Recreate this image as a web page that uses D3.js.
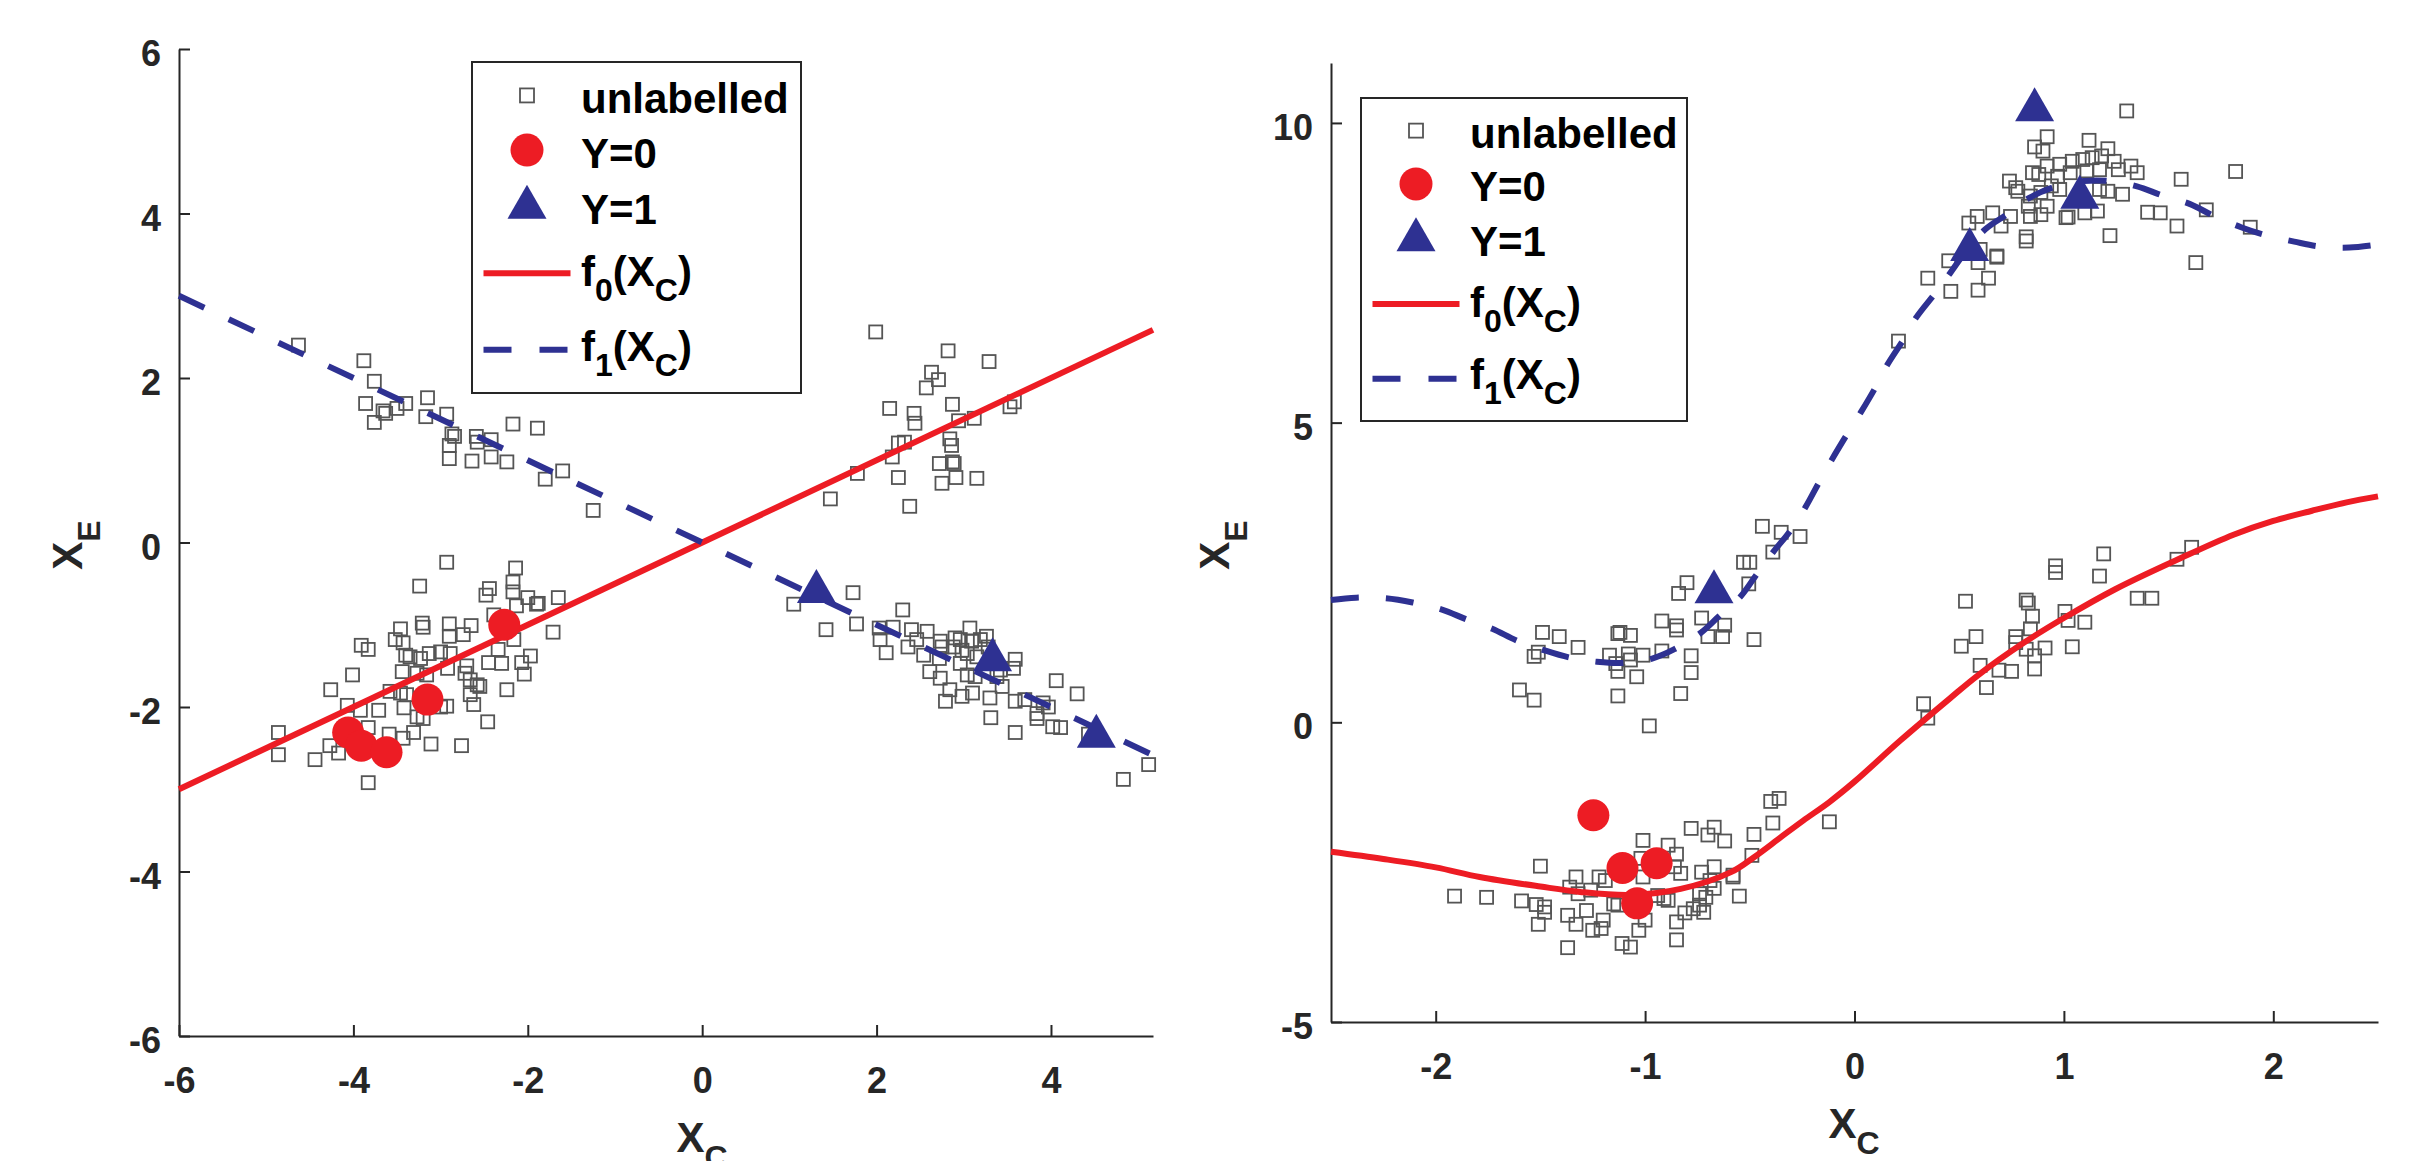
<!DOCTYPE html>
<meta charset="utf-8">
<style>
body { margin:0; background:#fff; }
svg text { font-family: "Liberation Sans", Arial, sans-serif; font-weight: bold; }
.axis path, .axis line { stroke:#262626; stroke-width:2; }
.axis text { fill:#262626; font-size:36px; font-family: "Liberation Sans", Arial, sans-serif; font-weight:bold; }
.sq { fill:none; stroke:#555; stroke-width:1.8; }
.lab { fill:#262626; font-size:42px; }
.leg text { fill:#000; font-size:42px; }
</style>
<body>
<script src="https://cdn.jsdelivr.net/npm/d3@7"></script>
<script>

var width = 2417, height = 1161;
var red = "#ed1c24", blue = "#2e3192";

// ---- left panel values ----
var leftXTicks = [-6, -4, -2, 0, 2, 4];
var leftYTicks = [-6, -4, -2, 0, 2, 4, 6];

var leftUnlabelled = [
  // upper left group
  [-4.63,2.40],[-3.88,2.21],[-3.76,1.96],[-3.86,1.69],[-3.76,1.46],[-3.66,1.60],[-3.63,1.57],[-3.50,1.63],
  [-3.40,1.69],[-3.15,1.76],[-3.17,1.53],[-2.93,1.56],[-2.87,1.32],[-2.84,1.29],[-2.90,1.18],[-2.90,1.02],
  [-2.59,1.29],[-2.58,1.22],[-2.42,1.25],[-2.64,0.99],[-2.42,1.04],[-2.24,0.98],[-2.17,1.44],[-1.89,1.39],
  [-1.80,0.77],[-1.60,0.87],[-1.25,0.39],
  // lower left group
  [-2.93,-0.24],[-2.14,-0.31],[-3.24,-0.53],[-2.17,-0.48],[-2.17,-0.60],[-2.44,-0.56],[-2.48,-0.64],[-2.00,-0.67],
  [-1.88,-0.74],[-1.90,-0.75],[-1.65,-0.67],[-2.13,-0.77],[-2.39,-0.88],[-3.21,-0.98],[-3.20,-1.03],[-2.90,-0.99],
  [-2.65,-1.01],[-3.46,-1.05],[-1.71,-1.09],[-2.90,-1.14],[-2.74,-1.12],[-3.52,-1.18],[-3.43,-1.22],[-3.91,-1.25],
  [-3.83,-1.30],[-2.16,-1.18],[-2.34,-1.30],[-3.40,-1.37],[-3.35,-1.39],[-3.23,-1.41],[-3.13,-1.35],[-3.00,-1.33],
  [-2.89,-1.35],[-1.97,-1.38],[-2.07,-1.46],[-2.04,-1.60],[-2.45,-1.46],[-2.30,-1.47],[-2.70,-1.50],[-2.72,-1.59],
  [-2.92,-1.53],[-3.44,-1.57],[-3.27,-1.59],[-3.16,-1.61],[-4.01,-1.61],[-2.66,-1.67],[-2.58,-1.73],[-2.55,-1.75],
  [-4.26,-1.79],[-3.58,-1.81],[-3.46,-1.83],[-3.39,-1.85],[-2.24,-1.79],[-2.66,-1.85],[-4.07,-1.98],[-3.92,-2.04],
  [-3.71,-2.04],[-3.42,-2.01],[-2.93,-1.99],[-3.00,-2.00],[-2.62,-1.97],[-3.27,-2.12],[-3.20,-2.14],[-2.46,-2.18],
  [-3.83,-2.25],[-4.86,-2.31],[-3.59,-2.33],[-3.43,-2.38],[-3.31,-2.31],[-4.27,-2.47],[-4.17,-2.56],[-3.11,-2.45],
  [-2.76,-2.47],[-4.86,-2.58],[-4.44,-2.64],[-3.83,-2.92],
  // upper right group
  [1.99,2.56],[2.82,2.33],[3.29,2.20],[2.63,2.07],[2.71,1.98],[2.57,1.88],[2.87,1.68],[2.15,1.63],
  [2.43,1.57],[2.44,1.45],[2.94,1.48],[3.12,1.51],[3.53,1.65],[3.58,1.71],[2.84,1.26],[2.86,1.18],
  [2.25,1.21],[2.32,1.22],[2.18,1.04],[1.78,0.84],[2.25,0.79],[2.72,0.96],[2.87,0.98],[2.89,0.96],
  [2.75,0.72],[2.91,0.79],[3.15,0.78],[1.47,0.53],[2.38,0.44],
  // lower right group
  [1.05,-0.75],[1.73,-0.61],[1.42,-1.06],[1.77,-0.99],[2.30,-0.82],[2.03,-1.04],[2.19,-1.03],[2.04,-1.18],
  [2.11,-1.34],[2.36,-1.27],[2.40,-1.06],[2.46,-1.18],[2.58,-1.08],[2.54,-1.37],[2.61,-1.57],[2.73,-1.20],
  [2.75,-1.27],[2.72,-1.41],[2.73,-1.65],[2.88,-1.27],[2.96,-1.18],[2.98,-1.31],[3.04,-1.35],[3.07,-1.04],
  [3.09,-1.20],[3.19,-1.18],[3.26,-1.14],[3.28,-1.27],[2.96,-1.47],[3.04,-1.61],[3.13,-1.63],[2.84,-1.79],
  [2.98,-1.87],[3.10,-1.83],[2.79,-1.93],[3.30,-1.89],[3.38,-1.63],[3.44,-1.75],[3.59,-1.42],[3.57,-1.53],
  [3.59,-1.93],[3.70,-1.91],[3.31,-2.13],[3.59,-2.31],[4.06,-1.68],[4.30,-1.84],[3.84,-2.08],[3.91,-1.95],
  [3.97,-2.00],[3.84,-2.14],[4.02,-2.24],[4.11,-2.25],[4.43,-2.33],[4.83,-2.88],[5.12,-2.70],[2.90,-1.16],
  [3.15,-1.39],[3.42,-1.55]
];
var leftY0 = [[-2.27,-1.00],[-3.15,-1.91],[-4.06,-2.31],[-3.91,-2.47],[-3.62,-2.55]];
var leftY1 = [[1.31,-0.53],[3.33,-1.36],[4.52,-2.29]];
var leftF0 = [[-6,-3],[5.17,2.585]];
var leftF1 = [[-6,3],[5.17,-2.585]];

// ---- right panel values ----
var rightXTicks = [-2, -1, 0, 1, 2];
var rightYTicks = [-5, 0, 5, 10];

var rightUnlabelled = [
  // upper left group
  [-1.49,1.50],[-1.41,1.43],[-1.32,1.25],[-1.51,1.17],[-1.53,1.10],[-1.60,0.54],[-1.53,0.37],[-1.12,1.50],
  [-1.13,1.48],[-1.07,1.45],[-1.17,1.12],[-1.13,0.85],[-1.14,0.98],[-1.08,1.14],[-1.07,1.04],[-1.01,1.12],
  [-1.04,0.76],[-1.13,0.44],[-0.98,-0.06],[-0.92,1.69],[-0.85,1.61],[-0.85,1.54],[-0.92,1.19],[-0.78,1.11],
  [-0.78,0.83],[-0.83,0.48],[-0.73,1.74],[-0.70,1.43],[-0.63,1.43],[-0.62,1.62],[-0.48,1.38],[-0.84,2.15],
  [-0.80,2.33],[-0.505,2.31],[-0.53,2.67],[-0.50,2.67],[-0.39,2.84],[-0.44,3.27],[-0.35,3.17],[-0.26,3.10],
  // lower left group
  [-1.91,-2.90],[-1.757,-2.92],[-1.59,-2.98],[-1.50,-2.40],[-1.52,-3.04],[-1.48,-3.08],[-1.48,-3.17],[-1.51,-3.37],
  [-1.37,-3.22],[-1.33,-3.37],[-1.37,-3.76],[-1.33,-2.58],[-1.36,-2.75],[-1.32,-2.86],[-1.28,-3.14],[-1.25,-3.47],
  [-1.21,-3.44],[-1.22,-2.58],[-1.26,-2.80],[-1.20,-3.30],[-1.19,-2.64],[-1.15,-3.03],[-1.13,-3.05],[-1.11,-3.69],
  [-1.07,-3.75],[-1.03,-3.47],[-1.00,-3.30],[-1.01,-1.97],[-1.02,-2.27],[-1.01,-2.58],[-0.94,-2.89],[-0.91,-2.94],
  [-0.89,-2.97],[-0.89,-2.05],[-0.85,-2.20],[-0.86,-2.41],[-0.83,-2.52],[-0.85,-3.63],[-0.85,-3.33],[-0.81,-3.18],
  [-0.78,-1.77],[-0.77,-3.11],[-0.74,-3.05],[-0.72,-3.17],[-0.74,-2.86],[-0.71,-2.92],[-0.73,-2.50],[-0.69,-2.64],
  [-0.67,-2.77],[-0.70,-1.88],[-0.67,-1.75],[-0.62,-1.98],[-0.67,-2.41],[-0.58,-2.58],[-0.58,-2.55],[-0.55,-2.90],
  [-0.48,-1.87],[-0.49,-2.22],[-0.40,-1.32],[-0.39,-1.68],[-0.36,-1.27],[-0.12,-1.66],
  // upper right group
  [1.30,10.20],[0.92,9.77],[0.86,9.60],[0.90,9.53],[1.12,9.71],[1.21,9.57],[0.74,9.03],[0.77,8.92],
  [0.78,8.86],[0.85,9.17],[0.88,9.14],[0.92,9.28],[0.98,9.31],[1.04,9.36],[1.09,9.39],[1.135,9.42],
  [1.18,9.45],[1.24,9.36],[1.26,9.22],[1.32,9.28],[1.35,9.17],[0.97,9.11],[1.03,9.17],[1.11,9.20],
  [1.17,9.22],[0.84,8.78],[0.89,8.84],[0.94,8.95],[0.98,8.89],[1.17,8.89],[1.21,8.86],[1.28,8.81],
  [0.83,8.61],[0.84,8.44],[0.89,8.47],[0.92,8.61],[1.01,8.42],[1.02,8.43],[1.10,8.50],[1.16,8.53],
  [0.82,8.10],[0.82,8.03],[1.22,8.12],[1.40,8.51],[1.46,8.50],[1.54,8.28],[1.56,9.06],[0.546,8.33],
  [0.586,8.44],[0.66,8.50],[0.70,8.28],[0.745,8.44],[0.60,7.89],[0.68,7.78],[0.59,7.67],[1.82,9.19],
  [1.68,8.55],[1.89,8.26],[1.63,7.67],[0.35,7.41],[0.46,7.19],[0.59,7.21],[0.64,7.41],[0.68,7.76],
  [0.45,7.70],[0.21,6.36],
  // lower right group
  [0.33,0.31],[0.35,0.07],[0.53,2.02],[0.58,1.43],[0.51,1.27],[0.60,0.95],[0.63,0.58],[0.69,0.87],
  [0.75,0.85],[0.77,1.43],[0.77,1.33],[0.83,1.99],[0.85,1.77],[0.84,1.56],[0.82,1.22],[0.91,1.24],
  [0.86,1.11],[0.86,0.89],[1.005,1.85],[1.02,1.70],[1.04,1.26],[1.10,1.67],[1.17,2.44],[0.96,2.61],
  [0.96,2.50],[1.35,2.07],[1.42,2.07],[1.19,2.81],[1.61,2.92],[1.54,2.72],[0.82,2.04]
];
var rightY0 = [[-1.247,-1.55],[-1.108,-2.43],[-0.945,-2.35],[-1.038,-3.02]];
var rightY1 = [[-0.671,2.27],[0.86,10.31],[0.55,7.98],[1.076,8.85]];
var rightF0 = [
  [-2.5,-2.16],[-2.25,-2.28],[-2,-2.42],[-1.79,-2.58],[-1.5,-2.74],[-1.31,-2.83],[-1.07,-2.88],[-0.83,-2.78],
  [-0.59,-2.5],[-0.48,-2.25],[-0.353,-1.92],[-0.245,-1.64],[-0.12,-1.33],[0,-0.99],[0.22,-0.3],[0.456,0.4],
  [0.588,0.78],[0.81,1.33],[1.0,1.74],[1.245,2.22],[1.546,2.72],[1.81,3.13],[2.0,3.36],[2.185,3.53],
  [2.35,3.67],[2.5,3.77]
];
var rightF1 = [
  [-2.5,2.04],[-2.38,2.08],[-2.24,2.07],[-2.11,2.00],[-1.97,1.88],[-1.855,1.72],[-1.73,1.56],[-1.61,1.36],
  [-1.48,1.20],[-1.36,1.08],[-1.23,1.01],[-1.10,0.99],[-0.97,1.06],[-0.86,1.22],[-0.735,1.49],[-0.65,1.76],
  [-0.544,2.10],[-0.469,2.46],[-0.384,2.86],[-0.31,3.18],[-0.234,3.59],[-0.173,3.98],[-0.107,4.39],[-0.04,4.78],
  [0.03,5.17],[0.099,5.58],[0.156,5.96],[0.231,6.37],[0.296,6.76],[0.381,7.14],[0.456,7.49],[0.53,7.85],
  [0.626,8.23],[0.73,8.48],[0.83,8.74],[0.954,8.93],[1.095,9.03],[1.217,9.03],[1.349,8.94],[1.47,8.79],
  [1.60,8.65],[1.715,8.45],[1.846,8.26],[1.96,8.13],[2.10,8.02],[2.22,7.94],[2.363,7.92],[2.5,7.97]
];

var legendNames = ["unlabelled", "Y=0", "Y=1"];

var svg = d3.select("body").append("svg")
    .attr("width", width)
    .attr("height", height)
    .style("display", "block");

svg.append("rect").attr("width", width).attr("height", height).attr("fill", "#fff");

function triPath(w, h) {
  return "M0," + (-h / 2) + "L" + (w / 2) + "," + (h / 2) + "L" + (-w / 2) + "," + (h / 2) + "Z";
}

function panel(o) {
  var x = d3.scaleLinear().domain(o.xDomain).range(o.xRange);
  var y = d3.scaleLinear().domain(o.yDomain).range(o.yRange);
  var g = svg.append("g");

  var xAxis = g.append("g").attr("class", "axis")
      .attr("transform", "translate(0," + o.yRange[0] + ")")
      .call(d3.axisBottom(x).tickValues(o.xTicks).tickSize(-11).tickSizeOuter(0)
        .tickFormat(function(d) { return String(d); }));
  xAxis.selectAll("text").attr("y", 57).attr("dy", null);

  var yAxis = g.append("g").attr("class", "axis")
      .attr("transform", "translate(" + o.xRange[0] + ",0)")
      .call(d3.axisLeft(y).tickValues(o.yTicks).tickSize(-11).tickSizeOuter(0)
        .tickFormat(function(d) { return String(d); }));
  yAxis.selectAll("text").attr("x", -18).attr("dy", "16.5px");

  g.selectAll(".axis .domain").attr("stroke", "#262626").attr("stroke-width", 2);

  // unlabelled squares
  g.append("g").selectAll("rect").data(o.unl).enter().append("rect")
      .attr("class", "sq")
      .attr("x", function(d) { return x(d[0]) - 6.5; })
      .attr("y", function(d) { return y(d[1]) - 6.5; })
      .attr("width", 13).attr("height", 13);

  var line = d3.line().x(function(d) { return x(d[0]); }).y(function(d) { return y(d[1]); })
      .curve(o.curve);

  g.append("path").datum(o.f0).attr("d", line)
      .attr("fill", "none").attr("stroke", red).attr("stroke-width", 6);
  g.append("path").datum(o.f1).attr("d", line)
      .attr("fill", "none").attr("stroke", blue).attr("stroke-width", 6)
      .attr("stroke-dasharray", "28,27");

  g.append("g").selectAll("circle").data(o.y0).enter().append("circle")
      .attr("cx", function(d) { return x(d[0]); })
      .attr("cy", function(d) { return y(d[1]); })
      .attr("r", 16).attr("fill", red);

  g.append("g").selectAll("path").data(o.y1).enter().append("path")
      .attr("d", triPath(39, 34))
      .attr("transform", function(d) { return "translate(" + x(d[0]) + "," + y(d[1]) + ")"; })
      .attr("fill", blue);

  // axis labels
  var xl = g.append("text").attr("class", "lab")
      .attr("x", o.xLabelX).attr("y", o.yRange[0] + 116)
      .attr("text-anchor", "middle");
  xl.append("tspan").text("X");
  xl.append("tspan").attr("dy", 16).style("font-size", "32px").text("C");

  var yl = g.append("text").attr("class", "lab")
      .attr("transform", "translate(" + o.yLabelX + ",545) rotate(-90)")
      .attr("text-anchor", "middle");
  yl.append("tspan").text("X");
  yl.append("tspan").attr("dy", 18).style("font-size", "32px").text("E");

  // legend
  var L = o.legend, lw = L.w, lh = L.h;
  var lg = g.append("g").attr("class", "leg").attr("transform", "translate(" + L.x + "," + L.y + ")");
  lg.append("rect").attr("width", lw).attr("height", lh)
      .attr("fill", "#fff").attr("stroke", "#262626").attr("stroke-width", 2);
  var mx = 55, tx = 109;
  lg.append("rect").attr("class", "sq").attr("x", mx - 7).attr("y", lh * 0.101 - 7)
      .attr("width", 14).attr("height", 14);
  lg.append("circle").attr("cx", mx).attr("cy", lh * 0.266).attr("r", 16.5).attr("fill", red);
  lg.append("path").attr("d", triPath(39, 34))
      .attr("transform", "translate(" + mx + "," + (lh * 0.422) + ")").attr("fill", blue);
  lg.append("line").attr("x1", 11.5).attr("x2", 98.5).attr("y1", lh * 0.638).attr("y2", lh * 0.638)
      .attr("stroke", red).attr("stroke-width", 6);
  lg.append("line").attr("x1", 11.5).attr("x2", 98.5).attr("y1", lh * 0.869).attr("y2", lh * 0.869)
      .attr("stroke", blue).attr("stroke-width", 6).attr("stroke-dasharray", "28,28");

  var base = [0.155, 0.320, 0.488];
  legendNames.forEach(function(n, i) {
    lg.append("text").attr("x", tx).attr("y", lh * base[i]).text(n);
  });
  [["0", 0.677], ["1", 0.902]].forEach(function(s) {
    var t = lg.append("text").attr("x", tx).attr("y", lh * s[1]);
    t.append("tspan").text("f");
    t.append("tspan").attr("dy", 15).style("font-size", "32px").text(s[0]);
    t.append("tspan").attr("dy", -15).text("(X");
    t.append("tspan").attr("dy", 15).style("font-size", "32px").text("C");
    t.append("tspan").attr("dy", -15).text(")");
  });
}

panel({
  xDomain: [-6, 5.17], xRange: [179, 1153],
  yDomain: [-6, 6], yRange: [1036, 49],
  xTicks: leftXTicks, yTicks: leftYTicks,
  unl: leftUnlabelled, y0: leftY0, y1: leftY1, f0: leftF0, f1: leftF1,
  curve: d3.curveLinear,
  xLabelX: 702, yLabelX: 82,
  legend: { x: 472, y: 62, w: 329, h: 331 }
});

panel({
  xDomain: [-2.5, 2.5], xRange: [1331, 2378],
  yDomain: [-5, 11], yRange: [1022, 63],
  xTicks: rightXTicks, yTicks: rightYTicks,
  unl: rightUnlabelled, y0: rightY0, y1: rightY1, f0: rightF0, f1: rightF1,
  curve: d3.curveCatmullRom,
  xLabelX: 1854, yLabelX: 1229,
  legend: { x: 1361, y: 98, w: 326, h: 323 }
});

</script>
</body>
